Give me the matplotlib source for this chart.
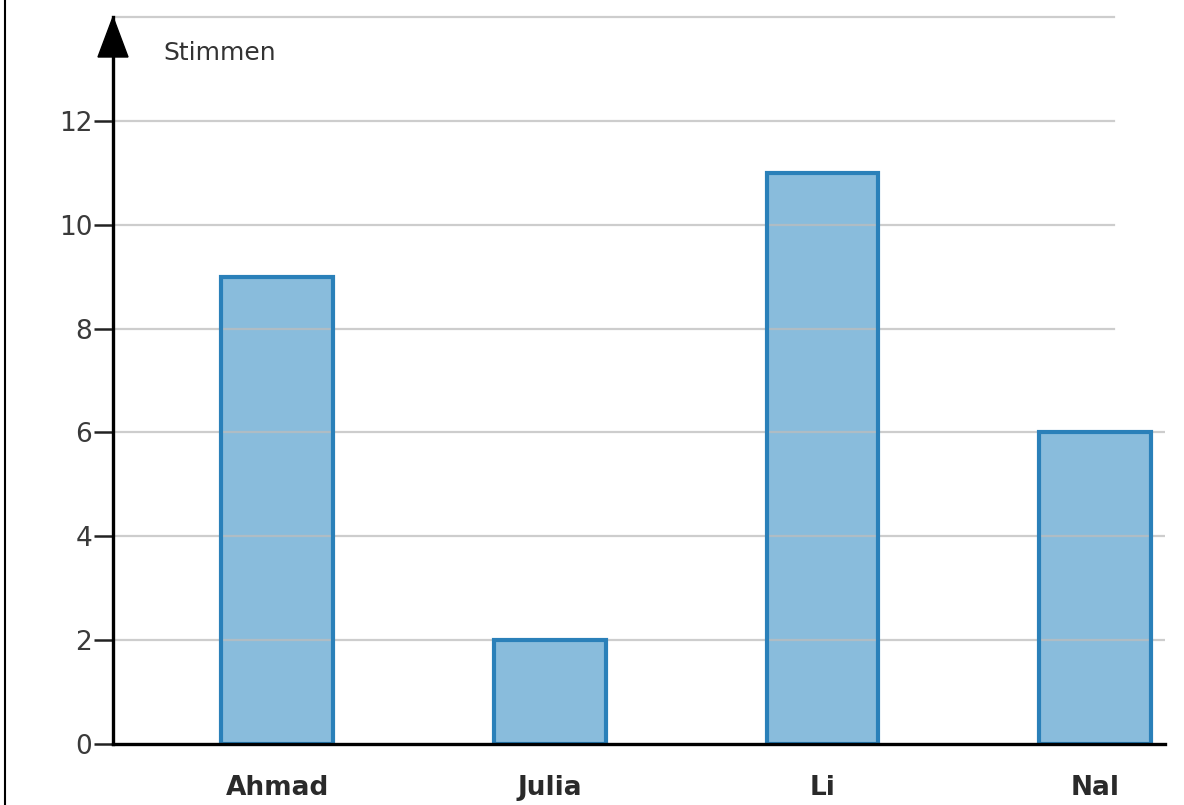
import matplotlib
matplotlib.use("Agg")
import matplotlib.pyplot as plt
from matplotlib.patches import Polygon

categories = ["Ahmad", "Julia", "Li", "Nal"]
votes = [9, 2, 11, 6]
yticks = [0, 2, 4, 6, 8, 10, 12]
grid_full = [2, 4, 6]
grid_short = [8, 10, 12, 14]
ylabel = "Stimmen"

W, H = 1184, 805
fig = plt.figure(figsize=(W / 100, H / 100), dpi=100)
ax_l, ax_r, ax_b, ax_t = 113, 1165, 744, 17
ax = fig.add_axes([ax_l / W, (H - ax_b) / H, (ax_r - ax_l) / W, (ax_b - ax_t) / H])

x = list(range(len(categories)))
ax.set_xlim(-0.603, 3.257)
ax.set_ylim(0, 14.0)

# bar faces, then grid, then bar outlines
ax.bar(x, votes, width=0.41, color="#89bcdc", linewidth=0, zorder=2)
ax.bar(x, votes, width=0.41, facecolor="none", edgecolor="#2a80b9",
       linewidth=3.0, zorder=4)

for g in grid_full:
    ax.axhline(g, color="#bdbdbd", linewidth=1.6, alpha=0.75, zorder=3)
xs = (3.07 - (-0.603)) / (3.257 - (-0.603))
for g in grid_short:
    ax.axhline(g, xmin=0, xmax=xs, color="#bdbdbd", linewidth=1.6, alpha=0.75,
               zorder=3, clip_on=False)

for s in ["top", "right"]:
    ax.spines[s].set_visible(False)
ax.spines["left"].set_linewidth(2.4)
ax.spines["bottom"].set_linewidth(2.4)
ax.spines["left"].set_zorder(5)
ax.spines["bottom"].set_zorder(5)

ax.set_yticks(yticks)
ax.set_yticklabels([str(v) for v in yticks], fontsize=19, color="#3a3a3a")
ax.tick_params(axis="y", length=14, width=1.8, pad=1, color="#222222")
ax.set_xticks(x)
ax.set_xticklabels(categories, fontsize=19, fontweight="bold", color="#2a2a2a")
ax.tick_params(axis="x", length=0, pad=22)

# arrow head on y axis
aw = 15 / (ax_r - ax_l)
ah = 40 / (ax_b - ax_t)
tri = Polygon([[0, 1.0], [-aw, 1.0 - ah], [aw, 1.0 - ah]], closed=True,
              transform=ax.transAxes, color="black", clip_on=False, zorder=6)
ax.add_patch(tri)

ax.text(163, H - 53, ylabel, transform=None, fontsize=18, color="#333333",
        va="center", ha="left")

# left frame border
fig.add_artist(plt.Line2D([5 / W, 5 / W], [0, 1], color="black", linewidth=1.5,
                          transform=fig.transFigure))

fig.savefig("out.png", dpi=100)
